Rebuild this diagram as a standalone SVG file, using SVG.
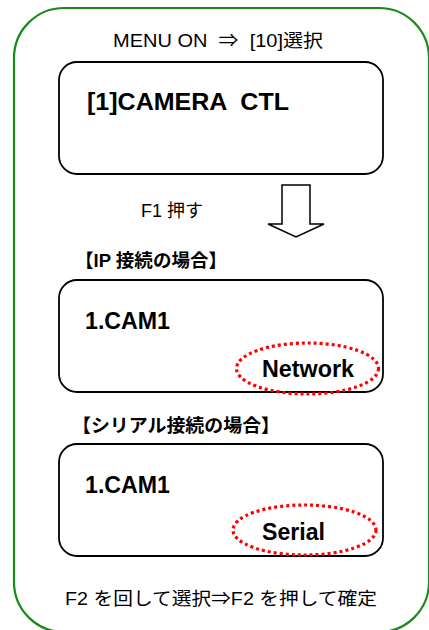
<svg xmlns="http://www.w3.org/2000/svg" width="429" height="630" viewBox="0 0 429 630">
<style>
.frame{fill:#fff;stroke:#1a8a1a;stroke-width:2.2}
.box{fill:#fff;stroke:#000;stroke-width:1.8}
.hl{fill:none;stroke:#ff0000;stroke-width:3.2;stroke-dasharray:3 3}
.t{font-family:"Liberation Sans","Noto Sans CJK JP",sans-serif;fill:#000;white-space:pre}
.n{font-size:18px}
.b{font-size:23px;font-weight:bold}
.j{font-size:18.5px;font-weight:bold}
.arrow{fill:#fff;stroke:#000;stroke-width:1.5;stroke-linejoin:miter}
</style>
<rect width="429" height="630" fill="#fff"/>
<g id="frame">
<rect class="frame" x="14" y="8" width="415" height="624" rx="50" ry="50"/>
</g>
<g id="title">
<text class="t n" x="113" y="47" textLength="210" lengthAdjust="spacingAndGlyphs" xml:space="preserve">MENU ON  ⇒  [10]選択</text>
</g>
<g id="menu-box">
<rect class="box" x="59" y="62" width="324" height="112" rx="18" ry="18"/>
<text class="t b" x="87" y="110" textLength="202" lengthAdjust="spacingAndGlyphs" xml:space="preserve">[1]CAMERA  CTL</text>
</g>
<g id="f1-label">
<text class="t n" x="141" y="217" xml:space="preserve">F1 押す</text>
</g>
<g id="connectors">
<path class="arrow" d="M282,185 H310 V224 H324 L296,237 L268,224 H282 Z"/>
</g>
<g id="ip-heading">
<text class="t j" x="75" y="267" textLength="152" lengthAdjust="spacingAndGlyphs" xml:space="preserve">【IP 接続の場合】</text>
</g>
<g id="ip-box">
<rect class="box" x="59" y="280" width="324" height="112" rx="18" ry="18"/>
<text class="t b" x="85" y="329" textLength="85" lengthAdjust="spacingAndGlyphs">1.CAM1</text>
<text class="t b" x="262" y="377" textLength="92" lengthAdjust="spacingAndGlyphs">Network</text>
<ellipse class="hl" cx="307.5" cy="368.5" rx="71" ry="25.5"/>
</g>
<g id="serial-heading">
<text class="t j" x="72" y="432" textLength="208" lengthAdjust="spacingAndGlyphs">【シリアル接続の場合】</text>
</g>
<g id="serial-box">
<rect class="box" x="59" y="444" width="324" height="112" rx="18" ry="18"/>
<text class="t b" x="85" y="493" textLength="85" lengthAdjust="spacingAndGlyphs">1.CAM1</text>
<text class="t b" x="262" y="540" textLength="63" lengthAdjust="spacingAndGlyphs">Serial</text>
<ellipse class="hl" cx="304.5" cy="530" rx="71.5" ry="25"/>
</g>
<g id="footer">
<text class="t n" x="65" y="605" textLength="312" lengthAdjust="spacingAndGlyphs" xml:space="preserve">F2 を回して選択⇒F2 を押して確定</text>
</g>
</svg>
